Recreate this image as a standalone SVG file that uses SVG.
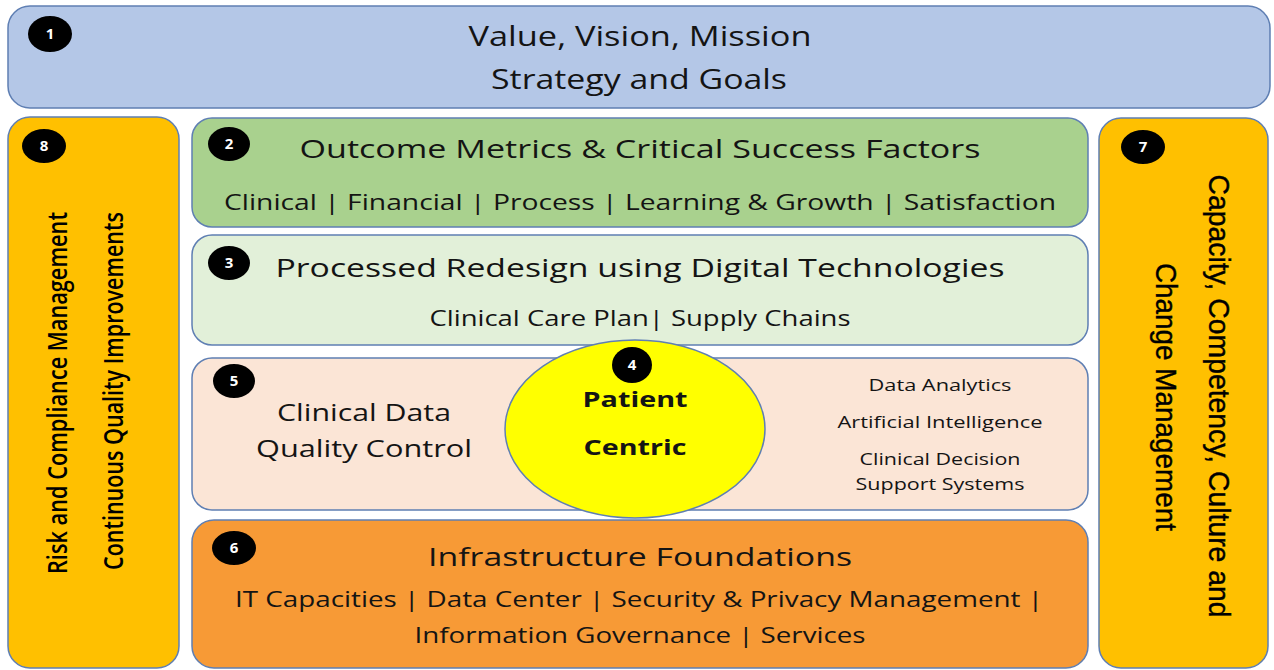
<svg xmlns="http://www.w3.org/2000/svg" width="1274" height="670" viewBox="0 0 1274 670">
<style>
.box{stroke:#5F7FB3;stroke-width:1.5}
.badge{fill:#000}
.num{fill:#fff;font-family:"Open Sans","Liberation Sans",sans-serif;font-weight:bold;font-size:15px;text-anchor:middle}
.t{font-family:"Open Sans","Liberation Sans",sans-serif;fill:#141414;text-anchor:middle}
.v{font-family:"Open Sans","Liberation Sans",sans-serif;fill:#000;text-anchor:middle;font-weight:600}
.r{font-family:"Liberation Sans",Arial,sans-serif;fill:#000;text-anchor:middle;stroke:#000;stroke-width:0.4}
</style>
<rect width="1274" height="670" fill="#fff"/>
<g id="connectors"></g>
<g id="node1">
<rect class="box" x="8" y="6" width="1262" height="102" rx="22" fill="#B4C7E7"/>
<ellipse class="badge" cx="50" cy="34" rx="22" ry="18"/>
<text class="num" x="50" y="39">1</text>
<text class="t" x="640" y="46" font-size="27" textLength="343" lengthAdjust="spacingAndGlyphs">Value, Vision, Mission</text>
<text class="t" x="639" y="89" font-size="27" textLength="296" lengthAdjust="spacingAndGlyphs">Strategy and Goals</text>
</g>
<g id="node8">
<rect class="box" x="8" y="117" width="171" height="551" rx="22" fill="#FFC000"/>
<ellipse class="badge" cx="44" cy="146" rx="22" ry="17"/>
<text class="num" x="44" y="151">8</text>
<text class="v" transform="translate(67,393) rotate(-90)" font-size="27" textLength="362" lengthAdjust="spacingAndGlyphs">Risk and Compliance Management</text>
<text class="v" transform="translate(123,391) rotate(-90)" font-size="27" textLength="358" lengthAdjust="spacingAndGlyphs">Continuous Quality Improvements</text>
</g>
<g id="node7">
<rect class="box" x="1099" y="118" width="169" height="550" rx="22" fill="#FFC000"/>
<ellipse class="badge" cx="1143" cy="147" rx="22" ry="17"/>
<text class="num" x="1143" y="152">7</text>
<text class="r" transform="translate(1209,396) rotate(90)" font-size="30" textLength="443" lengthAdjust="spacingAndGlyphs">Capacity, Competency, Culture and</text>
<text class="r" transform="translate(1156,397) rotate(90)" font-size="30" textLength="268" lengthAdjust="spacingAndGlyphs">Change Management</text>
</g>
<g id="node2">
<rect class="box" x="192" y="118" width="896" height="109" rx="20" fill="#A9D18E"/>
<ellipse class="badge" cx="229" cy="144" rx="21" ry="17"/>
<text class="num" x="229" y="149">2</text>
<text class="t" x="640" y="158" font-size="26" textLength="681" lengthAdjust="spacingAndGlyphs">Outcome Metrics &amp; Critical Success Factors</text>
<text class="t" x="640" y="210" font-size="21" textLength="832" lengthAdjust="spacingAndGlyphs">Clinical | Financial | Process | Learning &amp; Growth | Satisfaction</text>
</g>
<g id="node3">
<rect class="box" x="192" y="235" width="896" height="110" rx="20" fill="#E2F0D9"/>
<ellipse class="badge" cx="229" cy="263" rx="21" ry="17"/>
<text class="num" x="229" y="268">3</text>
<text class="t" x="640" y="277" font-size="26" textLength="729" lengthAdjust="spacingAndGlyphs">Processed Redesign using Digital Technologies</text>
<text class="t" x="640" y="326" font-size="21" textLength="421" lengthAdjust="spacingAndGlyphs">Clinical Care Plan| Supply Chains</text>
</g>
<g id="node5">
<rect class="box" x="192" y="358" width="896" height="152" rx="20" fill="#FBE5D6"/>
<ellipse class="badge" cx="234" cy="381" rx="21" ry="17"/>
<text class="num" x="234" y="386">5</text>
<text class="t" x="364" y="421" font-size="24" textLength="174" lengthAdjust="spacingAndGlyphs">Clinical Data</text>
<text class="t" x="364" y="457" font-size="24" textLength="216" lengthAdjust="spacingAndGlyphs">Quality Control</text>
<text class="t" x="940" y="391" font-size="17" textLength="143" lengthAdjust="spacingAndGlyphs">Data Analytics</text>
<text class="t" x="940" y="428" font-size="17" textLength="205" lengthAdjust="spacingAndGlyphs">Artificial Intelligence</text>
<text class="t" x="940" y="465" font-size="17" textLength="161" lengthAdjust="spacingAndGlyphs">Clinical Decision</text>
<text class="t" x="940" y="490" font-size="17" textLength="169" lengthAdjust="spacingAndGlyphs">Support Systems</text>
</g>
<g id="node4">
<ellipse cx="635" cy="429" rx="130" ry="89" fill="#FFFF00" stroke="#5F7FB3" stroke-width="1.5"/>
<ellipse class="badge" cx="632" cy="365" rx="20" ry="18"/>
<text class="num" x="632" y="370">4</text>
<text class="t" x="635" y="407" font-size="22" font-weight="bold" fill="#000" textLength="105" lengthAdjust="spacingAndGlyphs">Patient</text>
<text class="t" x="635" y="455" font-size="22" font-weight="bold" fill="#000" textLength="103" lengthAdjust="spacingAndGlyphs">Centric</text>
</g>
<g id="node6">
<rect class="box" x="192" y="520" width="896" height="148" rx="22" fill="#F79A36"/>
<ellipse class="badge" cx="234" cy="548" rx="22" ry="17"/>
<text class="num" x="234" y="553">6</text>
<text class="t" x="640" y="566" font-size="26" textLength="424" lengthAdjust="spacingAndGlyphs">Infrastructure Foundations</text>
<text class="t" x="639" y="607" font-size="21" textLength="808" lengthAdjust="spacingAndGlyphs">IT Capacities | Data Center | Security &amp; Privacy Management |</text>
<text class="t" x="640" y="643" font-size="21" textLength="451" lengthAdjust="spacingAndGlyphs">Information Governance | Services</text>
</g>
</svg>
